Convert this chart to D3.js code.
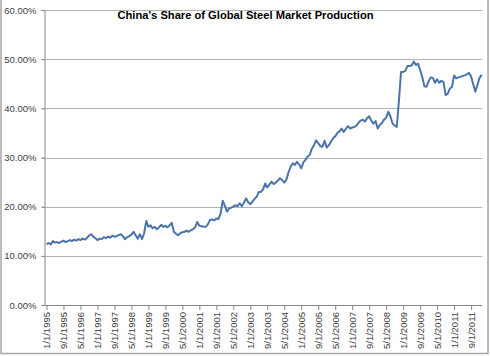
<!DOCTYPE html>
<html>
<head>
<meta charset="utf-8">
<script src="https://cdn.jsdelivr.net/npm/d3@7"></script>
<style>
  html, body { margin: 0; padding: 0; background: #fff; }
  svg { display: block; font-family: "Liberation Sans", Arial, sans-serif; }
</style>
</head>
<body>
<svg id="chart" width="490" height="356"></svg>
<script>
// ---- Data ----
const title = "China's Share of Global Steel Market Production";
const startYear = 1995;
// Monthly share (%) from Jan 1995 to Feb 2012
const share1995 = [12.4, 12.6, 12.3, 13.0, 12.7, 12.8, 12.6, 12.9, 13.1, 12.8, 13.0, 13.2];
const share1996 = [13.0, 13.3, 13.1, 13.4, 13.2, 13.5, 13.3, 13.6, 14.1, 14.4, 13.9, 13.6];
const share1997 = [13.2, 13.5, 13.4, 13.8, 13.6, 13.9, 13.7, 14.1, 13.9, 14.0, 14.2, 14.4];
const share1998 = [14.0, 13.4, 13.8, 14.0, 14.3, 14.9, 14.2, 13.5, 14.4, 13.4, 14.6, 17.1];
const share1999 = [15.9, 16.2, 15.6, 15.9, 15.4, 15.8, 16.3, 15.9, 16.1, 15.8, 16.2, 16.7];
const share2000 = [14.9, 14.5, 14.2, 14.6, 14.8, 14.9, 15.1, 14.9, 15.2, 15.4, 15.8, 16.9];
const share2001 = [16.1, 16.0, 15.9, 15.9, 16.4, 17.3, 17.4, 17.2, 17.6, 17.5, 18.6, 21.2];
const share2002 = [20.2, 19.0, 19.6, 19.8, 20.0, 20.3, 20.1, 20.7, 20.1, 20.8, 21.7, 20.9];
const share2003 = [20.5, 21.0, 21.6, 22.0, 23.0, 23.0, 23.5, 24.7, 23.9, 24.5, 25.1, 24.6];
const share2004 = [24.9, 25.3, 25.8, 25.4, 24.9, 25.5, 27.0, 28.1, 28.8, 28.5, 29.1, 28.6];
const share2005 = [27.8, 29.0, 29.5, 30.2, 30.5, 31.8, 32.5, 33.5, 32.9, 32.3, 32.2, 33.4];
const share2006 = [32.0, 32.5, 33.2, 33.9, 34.3, 35.0, 35.3, 35.9, 35.2, 35.8, 36.4, 35.9];
const share2007 = [36.1, 36.2, 36.5, 37.1, 37.5, 37.7, 37.3, 38.0, 38.4, 37.5, 36.9, 37.4];
const share2008 = [35.9, 36.6, 37.0, 37.7, 38.1, 39.3, 38.4, 36.9, 36.5, 36.2, 41.5, 47.4];
const share2009 = [47.4, 47.6, 48.6, 48.6, 48.7, 49.5, 48.8, 49.1, 47.8, 46.4, 44.5, 44.4];
const share2010 = [45.5, 46.3, 46.2, 45.2, 45.9, 45.2, 45.6, 45.4, 42.7, 43.0, 44.0, 44.4];
const share2011 = [46.7, 46.1, 46.3, 46.4, 46.6, 46.7, 46.9, 47.2, 46.5, 44.9, 43.4, 44.8];
const share2012 = [46.2, 46.8];

const yTicks = [0, 10, 20, 30, 40, 50, 60];
const labelEveryMonths = 8;

// ---- Build series ----
const allShares = [].concat(share1995, share1996, share1997, share1998, share1999, share2000,
  share2001, share2002, share2003, share2004, share2005, share2006, share2007, share2008,
  share2009, share2010, share2011, share2012);
const data = allShares.map((v, i) => ({
  i: i,
  label: ((i % 12) + 1) + "/1/" + (startYear + Math.floor(i / 12)),
  v: v
}));

// ---- Layout ----
const svg = d3.select("#chart");
const W = 490, H = 356;
const plot = { left: 44.5, right: 482, top: 10, bottom: 305 };

// outer border
svg.append("rect")
  .attr("x", 1).attr("y", -3).attr("width", 487).attr("height", 356.5)
  .attr("fill", "none").attr("stroke", "#a6a6a6").attr("stroke-width", 1.5);

const x = d3.scaleLinear().domain([0, data.length - 1]).range([46.5, 481.7]);
const y = d3.scaleLinear().domain([0, 60]).range([plot.bottom, plot.top]);

// gridlines
svg.append("g").selectAll("line")
  .data(yTicks.filter(t => t > 0))
  .join("line")
  .attr("x1", plot.left - 3).attr("x2", plot.right)
  .attr("y1", d => Math.round(y(d)) + 0.5).attr("y2", d => Math.round(y(d)) + 0.5)
  .attr("stroke", "#b3b3b3").attr("stroke-width", 1);

// y axis
const yAxis = d3.axisLeft(y).tickValues(yTicks).tickSize(3).tickPadding(5)
  .tickFormat(d => d.toFixed(2) + "%");
const gy = svg.append("g").attr("transform", `translate(${plot.left},0)`).call(yAxis);
gy.select(".domain").attr("stroke", "#868686");
gy.selectAll(".tick line").attr("stroke", "#868686");
gy.selectAll(".tick text").attr("fill", "#404040").style("font-size", "9.5px")
  .style("font-family", "'Liberation Sans', Arial, sans-serif");

// x axis
const xTickIdx = data.filter(d => d.i % labelEveryMonths === 0).map(d => d.i);
const xAxis = d3.axisBottom(x).tickValues(xTickIdx).tickSize(5).tickPadding(3)
  .tickFormat(i => data[i].label);
const gx = svg.append("g").attr("transform", `translate(0,${plot.bottom})`).call(xAxis);
gx.select(".domain").attr("stroke", "#868686").attr("d", `M${plot.left},0.5H${plot.right}`);
gx.selectAll(".tick line").attr("stroke", "#868686");
gx.selectAll(".tick text")
  .attr("fill", "#404040").style("font-size", "9.5px")
  .style("font-family", "'Liberation Sans', Arial, sans-serif")
  .attr("transform", "rotate(-90)")
  .attr("text-anchor", "end")
  .attr("x", -7).attr("y", 0).attr("dy", "0.35em");

// line
const line = d3.line().x(d => x(d.i)).y(d => y(d.v));
svg.append("path")
  .datum(data)
  .attr("d", line)
  .attr("fill", "none")
  .attr("stroke", "#4a74aa")
  .attr("stroke-width", 2)
  .attr("stroke-linejoin", "round");

// title
svg.append("text")
  .attr("x", 245.5).attr("y", 18.5)
  .attr("text-anchor", "middle")
  .attr("fill", "#000")
  .style("font-family", "'Liberation Sans', Arial, sans-serif")
  .style("font-weight", "bold")
  .style("font-size", "11.5px")
  .attr("textLength", 256)
  .attr("lengthAdjust", "spacingAndGlyphs")
  .text(title);
</script>
</body>
</html>
